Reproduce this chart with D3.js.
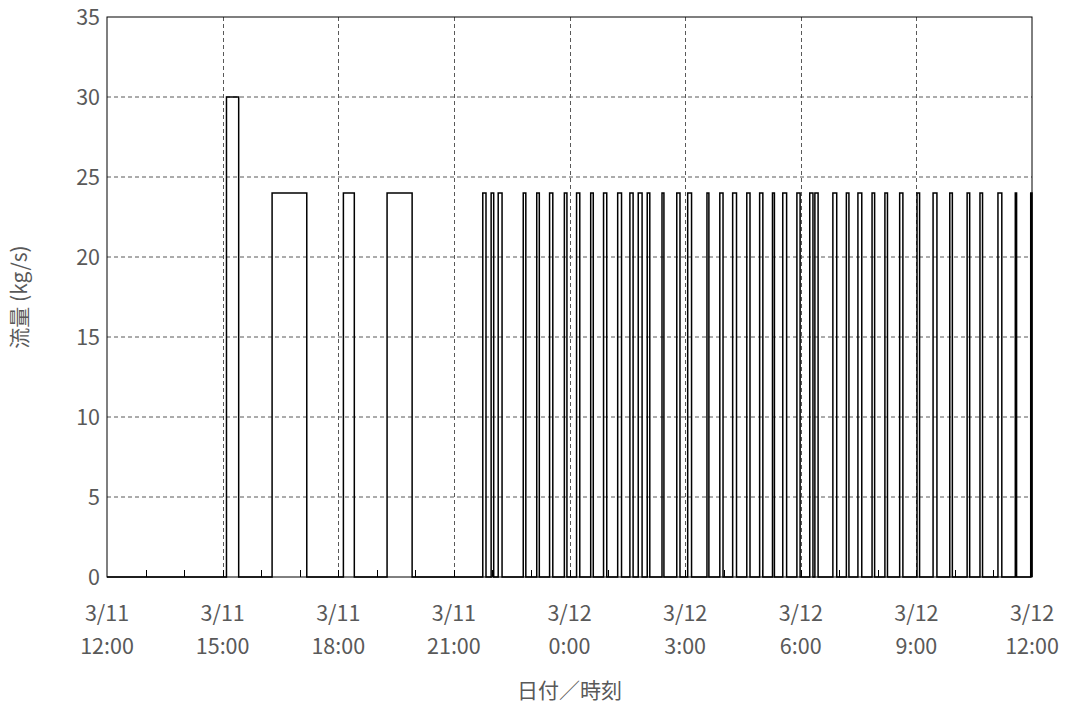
<!DOCTYPE html>
<html>
<head>
<meta charset="utf-8">
<script src="https://cdn.jsdelivr.net/npm/d3@7"></script>
<style>
  body { margin: 0; background: #fff; }
  text { font-family: "Noto Sans CJK JP", "Noto Sans", sans-serif; fill: #595959; }
</style>
</head>
<body>
<script>
(function () {
  var svg, x, y, line, parse, pts, margin, width, height, plot;

  // pulse start / end times and flow (kg/s)
  var pulseStart = [
    '03-11 15:06', '03-11 16:17', '03-11 18:08', '03-11 19:16',
    '03-11 21:45', '03-11 21:58', '03-11 22:09', '03-11 22:48', '03-11 23:09',
    '03-11 23:29', '03-11 23:52', '03-12 0:11', '03-12 0:33', '03-12 0:53',
    '03-12 1:15', '03-12 1:34', '03-12 1:47', '03-12 2:01', '03-12 2:24',
    '03-12 2:47', '03-12 3:04', '03-12 3:34', '03-12 3:54', '03-12 4:14',
    '03-12 4:36', '03-12 4:56', '03-12 5:16', '03-12 5:32', '03-12 5:54',
    '03-12 6:14', '03-12 6:22', '03-12 6:50', '03-12 7:11', '03-12 7:29',
    '03-12 7:51', '03-12 8:11', '03-12 8:34', '03-12 9:01', '03-12 9:26',
    '03-12 9:52', '03-12 10:19', '03-12 10:39', '03-12 11:07', '03-12 11:34',
    '03-12 11:58'
  ];
  var pulseEnd = [
    '03-11 15:25', '03-11 17:11', '03-11 18:25', '03-11 19:55',
    '03-11 21:50', '03-11 22:02', '03-11 22:15', '03-11 22:52', '03-11 23:13',
    '03-11 23:34', '03-11 23:56', '03-12 0:16', '03-12 0:37', '03-12 0:58',
    '03-12 1:21', '03-12 1:39', '03-12 1:53', '03-12 2:05', '03-12 2:27',
    '03-12 2:52', '03-12 3:10', '03-12 3:37', '03-12 3:59', '03-12 4:20',
    '03-12 4:41', '03-12 5:01', '03-12 5:19', '03-12 5:38', '03-12 5:59',
    '03-12 6:19', '03-12 6:27', '03-12 6:56', '03-12 7:15', '03-12 7:35',
    '03-12 7:55', '03-12 8:15', '03-12 8:39', '03-12 9:05', '03-12 9:32',
    '03-12 9:56', '03-12 10:23', '03-12 10:43', '03-12 11:13', '03-12 11:36',
    '03-12 12:00'
  ];
  var pulseValue = [30, 24, 24, 24].concat(pulseStart.slice(4).map(function () { return 24; }));

  var xStart = '03-11 12:00', xEnd = '03-12 12:00';
  var yTicks = [0, 5, 10, 15, 20, 25, 30, 35];

  margin = { left: 107, top: 17, right: 40, bottom: 134 };
  width = 1072;
  height = 711;
  plot = { w: 1032 - 107, h: 577 - 17 };

  parse = d3.timeParse('%Y-%m-%d %H:%M');
  function t(s) { return parse('2011-' + s); }

  x = d3.scaleTime()
    .domain([t(xStart), t(xEnd)])
    .range([0, plot.w]);

  y = d3.scaleLinear()
    .domain([0, 35])
    .range([plot.h, 0]);

  svg = d3.select('body')
    .append('svg')
    .attr('width', width)
    .attr('height', height);

  var g = svg.append('g')
    .attr('transform', 'translate(' + margin.left + ',' + margin.top + ')');

  var majors = d3.timeHour.every(3).range(t(xStart), d3.timeMinute.offset(t(xEnd), 1));

  // gridlines
  g.selectAll('line.hgrid')
    .data(yTicks.slice(1, -1))
    .enter()
    .append('line')
    .attr('x1', 0).attr('x2', plot.w)
    .attr('y1', function (d) { return y(d); })
    .attr('y2', function (d) { return y(d); })
    .attr('stroke', '#595959')
    .attr('stroke-width', 1)
    .attr('stroke-dasharray', '4,3');

  g.selectAll('line.vgrid')
    .data(majors.slice(1, -1))
    .enter()
    .append('line')
    .attr('y1', 0).attr('y2', plot.h)
    .attr('x1', function (d) { return Math.round(x(d)) + 0.5; })
    .attr('x2', function (d) { return Math.round(x(d)) + 0.5; })
    .attr('stroke', '#595959')
    .attr('stroke-width', 1)
    .attr('stroke-dasharray', '4,3');

  // hourly minor ticks
  g.selectAll('line.minor')
    .data(d3.timeHour.every(1).range(t(xStart), t(xEnd)).slice(1))
    .enter()
    .append('line')
    .attr('x1', function (d) { return Math.round(x(d)) + 0.5; })
    .attr('x2', function (d) { return Math.round(x(d)) + 0.5; })
    .attr('y1', plot.h)
    .attr('y2', plot.h - 7)
    .attr('stroke', '#000')
    .attr('stroke-width', 1);

  // step series
  pts = [[t(xStart), 0]];
  pulseStart.forEach(function (s, i) {
    pts.push([t(s), 0], [t(s), pulseValue[i]], [t(pulseEnd[i]), pulseValue[i]], [t(pulseEnd[i]), 0]);
  });
  pts.push([t(xEnd), 0]);

  line = d3.line()
    .x(function (d) { return x(d[0]); })
    .y(function (d) { return y(d[1]); });

  g.append('path')
    .datum(pts)
    .attr('d', line)
    .attr('fill', 'none')
    .attr('stroke', '#000')
    .attr('stroke-width', 1.5);

  // plot border
  g.append('rect')
    .attr('x', 0).attr('y', 0)
    .attr('width', plot.w).attr('height', plot.h)
    .attr('fill', 'none')
    .attr('stroke', '#000')
    .attr('stroke-width', 1);

  // y tick labels
  g.selectAll('text.ylab')
    .data(yTicks)
    .enter()
    .append('text')
    .attr('x', -7)
    .attr('y', function (d) { return y(d); })
    .attr('dy', '0.35em')
    .attr('text-anchor', 'end')
    .style('font-size', '21.5px')
    .text(function (d) { return d; });

  // x tick labels
  var xl = g.selectAll('text.xlab')
    .data(majors)
    .enter()
    .append('text')
    .attr('text-anchor', 'middle')
    .style('font-size', '21.5px')
    .attr('transform', function (d) { return 'translate(' + x(d) + ',' + (plot.h + 44) + ')'; });
  xl.append('tspan')
    .attr('x', 0).attr('y', 0)
    .text(d3.timeFormat('%-m/%-d'));
  xl.append('tspan')
    .attr('x', 0).attr('y', 33)
    .text(d3.timeFormat('%-H:%M'));

  // axis titles
  svg.append('text')
    .attr('x', margin.left + plot.w / 2)
    .attr('y', 698)
    .attr('text-anchor', 'middle')
    .style('font-size', '21px')
    .text('日付／時刻');

  svg.append('text')
    .attr('transform', 'translate(27,' + (margin.top + plot.h / 2) + ') rotate(-90)')
    .attr('text-anchor', 'middle')
    .style('font-size', '21px')
    .text('流量 (kg/s)');
}());
</script>
</body>
</html>
